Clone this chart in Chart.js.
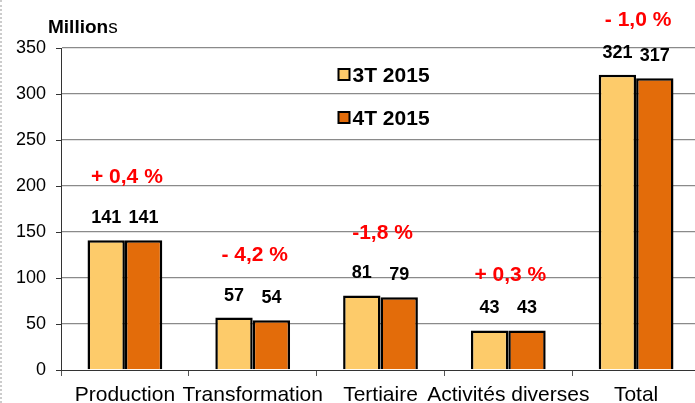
<!DOCTYPE html>
<html><head><meta charset="utf-8">
<script src="https://cdn.jsdelivr.net/npm/chart.js@4"></script>
<style>
html,body{margin:0;padding:0;background:#fff;overflow:hidden;}
#wrap{position:relative;width:695px;height:403px;border-left:2px dotted #ccc;box-sizing:border-box;overflow:hidden;}
canvas{display:block;}
</style></head><body>
<div id="wrap"><canvas id="c" width="698" height="403"></canvas></div>
<script>
const categories = ["Production","Transformation","Tertiaire","Activités diverses","Total"];
const seriesNames = ["3T 2015","4T 2015"];
const q3Values = [141, 57, 81, 43, 321];
const q4Values = [141, 54, 79, 43, 317];
const changeLabels = ["+ 0,4 %","- 4,2 %","-1,8 %","+ 0,3 %","- 1,0 %"];
const changeLabelLevel = [210, 125, 149, 103, 380];
const yTicks = [0,50,100,150,200,250,300,350];

const FONT = "'Liberation Sans', Arial, sans-serif";

const labelsPlugin = {
  id: 'labelsPlugin',
  afterDatasetsDraw(chart) {
    const ctx = chart.ctx;
    ctx.save();
    ctx.font = "bold 18px " + FONT;
    ctx.fillStyle = "#000";
    ctx.textAlign = "center";
    ctx.textBaseline = "middle";
    chart.data.datasets.forEach((ds, di) => {
      const meta = chart.getDatasetMeta(di);
      meta.data.forEach((bar, i) => {
        ctx.fillText(String(ds.data[i]), bar.x, bar.y - 22);
      });
    });
    const xs = chart.scales.x, ys = chart.scales.y;
    ctx.font = "bold 21px " + FONT;
    ctx.fillStyle = "#FF0000";
    changeLabels.forEach((t, i) => {
      ctx.fillText(t, xs.getPixelForValue(i) + 2, ys.getPixelForValue(changeLabelLevel[i]));
    });
    // legend
    const lx = xs.getPixelForValue(2) - 36;
    const items = [{y: ys.getPixelForValue(321)}, {y: ys.getPixelForValue(274)}];
    ctx.font = "bold 21px " + FONT;
    ctx.textAlign = "left";
    chart.data.datasets.forEach((ds, di) => {
      const y = Math.round(items[di].y);
      ctx.fillStyle = ds.backgroundColor;
      ctx.fillRect(lx - 6, y - 6, 11, 11);
      ctx.strokeStyle = "#000";
      ctx.lineWidth = 2;
      ctx.strokeRect(lx - 6, y - 6, 11, 11);
      ctx.fillStyle = "#000";
      ctx.fillText(ds.label, lx + 8, y + 1);
    });
    // title "Millions"
    ctx.textAlign = "left";
    ctx.textBaseline = "alphabetic";
    ctx.font = "bold 19px " + FONT;
    const w = ctx.measureText("Million").width;
    ctx.fillText("Million", 46, 33);
    ctx.font = "19px " + FONT;
    ctx.fillText("s", 46 + w, 33);
    ctx.restore();
  }
};

new Chart(document.getElementById('c'), {
  type: 'bar',
  data: {
    labels: categories,
    datasets: [
      {label: seriesNames[0], data: q3Values, backgroundColor: "#FDCB6A", borderColor: "#000", borderWidth: 2.5, borderSkipped: 'bottom'},
      {label: seriesNames[1], data: q4Values, backgroundColor: "#E36C0A", borderColor: "#000", borderWidth: 2.5, borderSkipped: 'bottom'}
    ]
  },
  options: {
    responsive: false,
    animation: false,
    devicePixelRatio: 1,
    layout: {padding: {top: 48, right: 0, left: 0, bottom: 0}},
    plugins: {legend: {display: false}, tooltip: {enabled: false}},
    datasets: {bar: {categoryPercentage: 0.585, barPercentage: 1.0}},
    scales: {
      x: {
        afterFit(s) { s.height = 33; },
        grid: {offset: true, drawOnChartArea: false, drawTicks: true, tickLength: 6, color: "#555", tickWidth: 1},
        border: {display: true, color: "#333", width: 1},
        ticks: {color: "#000", font: {family: FONT, size: 21}, padding: 7, maxRotation: 0, autoSkip: false}
      },
      y: {
        min: 0, max: 350,
        afterFit(s) { s.width = 59; },
        afterBuildTicks(s) { s.ticks = yTicks.map(v => ({value: v})); },
        grid: {color: (c) => c.tick && c.tick.value === 0 ? 'rgba(0,0,0,0)' : '#8a8a8a', borderDash: [4, 3], drawTicks: false, lineWidth: 1.3},
        border: {display: true, color: "#333", width: 1, dash: []},
        ticks: {color: "#000", font: {family: FONT, size: 18}, padding: 15, stepSize: 50}
      }
    }
  },
  plugins: [labelsPlugin, {
    id: 'ytickmarks',
    afterDraw(chart) {
      const ctx = chart.ctx, ys = chart.scales.y, x0 = chart.chartArea.left;
      ctx.save(); ctx.strokeStyle = "#333"; ctx.lineWidth = 1;
      yTicks.forEach(v => { const y = Math.round(ys.getPixelForValue(v)) + 0.5; ctx.beginPath(); ctx.moveTo(x0 - 5, y); ctx.lineTo(x0, y); ctx.stroke(); });
      ctx.restore();
    }
  }]
});
</script>
</body></html>
